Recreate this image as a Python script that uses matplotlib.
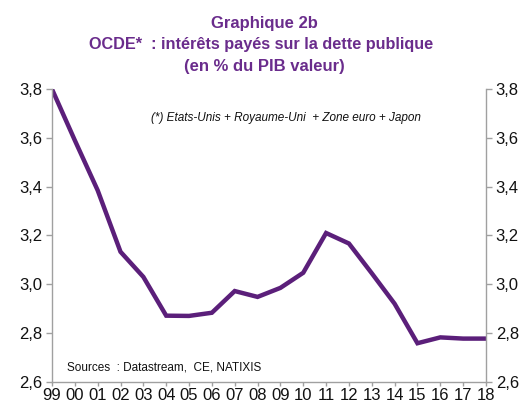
import matplotlib
matplotlib.use("Agg")
import matplotlib.pyplot as plt

plt.rcParams['font.family'] = ['Liberation Sans', 'DejaVu Sans']

# -----------------------------------------------------------
# data
years = ["99", "00", "01", "02", "03", "04", "05", "06", "07", "08",
         "09", "10", "11", "12", "13", "14", "15", "16", "17", "18"]
interets = [3.80, 3.59, 3.385, 3.133, 3.03, 2.871, 2.87, 2.883, 2.972, 2.948,
            2.985, 3.047, 3.21, 3.167, 3.045, 2.92, 2.758, 2.782, 2.777, 2.777]
yticks = [2.6, 2.8, 3.0, 3.2, 3.4, 3.6, 3.8]
# -----------------------------------------------------------

purple = '#5b1f7a'
title_col = '#6a2c8c'
grey = '#a0a0a0'

fig = plt.figure(figsize=(5.23, 4.07), dpi=100)
ax = fig.add_axes([0.0994, 0.062, 0.8298, 0.719])

x = list(range(len(years)))
ax.plot(x, interets, color=purple, linewidth=3.2, solid_joinstyle='miter')

ax.set_xlim(0, len(years) - 1)
ax.set_ylim(2.6, 3.8)
ax.set_xticks(x)
ax.set_xticklabels(years)
ax.set_yticks(yticks)
ax.set_yticklabels([f"{v:.1f}".replace('.', ',') for v in yticks])

ax.tick_params(axis='both', labelsize=12, colors=grey, labelcolor='#111111',
               direction='out', length=4, width=1)
ax.tick_params(axis='y', right=True, labelright=True, pad=3)
ax.tick_params(axis='x', pad=1.5, length=3)
ax.spines['top'].set_visible(False)
for side in ['left', 'right', 'bottom']:
    ax.spines[side].set_color(grey)
    ax.spines[side].set_linewidth(1)

ax.text(0.54, 0.9, "(*) Etats-Unis + Royaume-Uni  + Zone euro + Japon",
        transform=ax.transAxes, ha='center', va='center',
        fontsize=8.5, style='italic', color='#111111')
ax.text(0.035, 0.05, "Sources  : Datastream,  CE, NATIXIS",
        transform=ax.transAxes, ha='left', va='center',
        fontsize=8.5, color='#111111')

fig.text(0.506, 0.942, "Graphique 2b", ha='center', va='center',
         fontsize=12, fontweight='bold', color=title_col)
fig.text(0.5, 0.89, "OCDE*  : intérêts payés sur la dette publique",
         ha='center', va='center', fontsize=11.7, fontweight='bold', color=title_col)
fig.text(0.506, 0.837, "(en % du PIB valeur)", ha='center', va='center',
         fontsize=12, fontweight='bold', color=title_col)

plt.savefig("out.png", dpi=100)
